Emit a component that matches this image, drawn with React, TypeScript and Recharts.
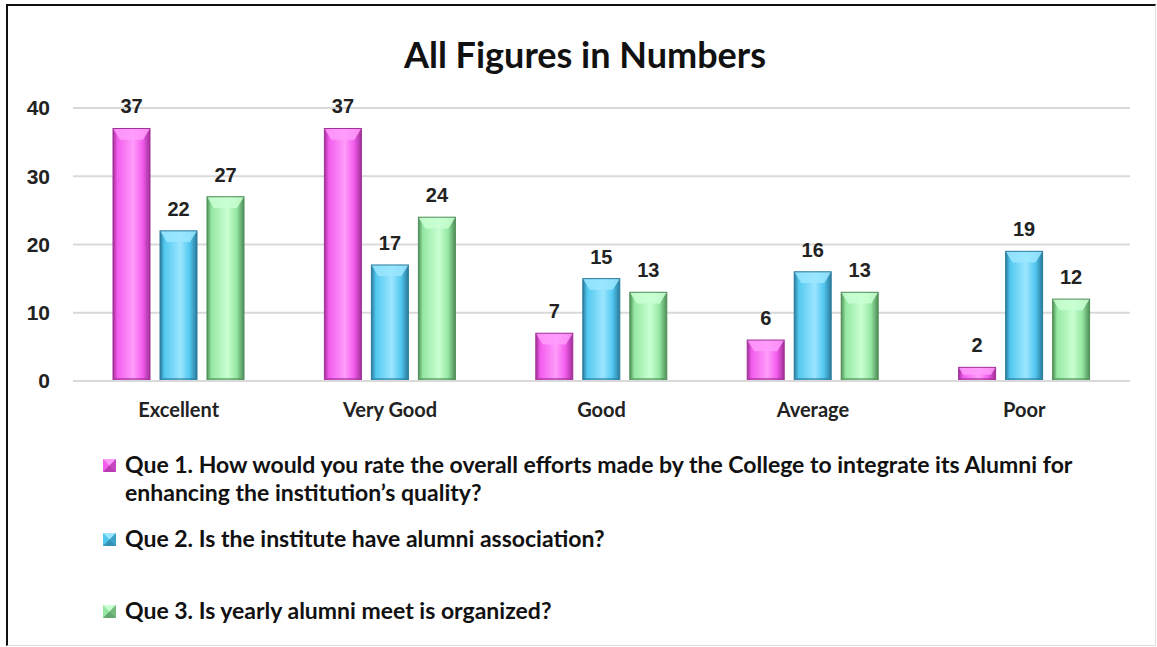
import React from 'react';
import { BarChart, Bar, XAxis, YAxis, CartesianGrid, LabelList } from 'recharts';

const categories = ['Excellent', 'Very Good', 'Good', 'Average', 'Poor'];
const que1 = [37, 37, 7, 6, 2];
const que2 = [22, 17, 15, 16, 19];
const que3 = [27, 24, 13, 13, 12];
const yTicks = [0, 10, 20, 30, 40];
const title = 'All Figures in Numbers';
const seriesKeys = ['q1', 'q2', 'q3'];
const seriesNames = [
  'Que 1.  How would you rate the overall efforts made by the College to integrate its Alumni for\nenhancing the institution\u2019s quality?',
  'Que 2. Is the institute have alumni association?',
  'Que 3. Is yearly alumni meet is organized?',
];
const seriesColors = [
  { base: '#f35ced', light: '#ff9cfb', dark: '#a02f98' },
  { base: '#52c8f0', light: '#9be6ff', dark: '#2a7b9c' },
  { base: '#95e8a2', light: '#c9ffd2', dark: '#4f8d58' },
];

const data = categories.map((c, i) => ({ name: c, q1: que1[i], q2: que2[i], q3: que3[i] }));

const makeShape = (idx: number) => (props: any) => {
  const { x, y, width, height } = props;
  if (!height || height <= 0) return <g />;
  const c = seriesColors[idx];
  const b = Math.min(7, height / 3, width / 4);
  return (
    <g>
      <rect x={x} y={y} width={width} height={height} fill={`url(#barGrad${idx})`} />
      <polygon
        points={`${x},${y} ${x + width},${y} ${x + width - b},${y + b * 1.6} ${x + b},${y + b * 1.6}`}
        fill={c.light}
        opacity={0.85}
      />
      <polygon
        points={`${x},${y + height} ${x + width},${y + height} ${x + width - 3},${y + height - 3} ${x + 3},${y + height - 3}`}
        fill={c.dark}
        opacity={0.6}
      />
      <rect x={x} y={y} width={width} height={height} fill="none" stroke={c.dark} strokeWidth={1} />
    </g>
  );
};

const LegendIcon = ({ idx }: { idx: number }) => {
  const c = seriesColors[idx];
  return (
    <svg width={13} height={13} style={{ marginRight: 9, flexShrink: 0, position: 'relative', top: 1 }}>
      <rect x={0} y={0} width={13} height={13} fill={c.base} />
      <polygon points="0,0 13,0 6.5,6.5" fill={c.light} />
      <polygon points="0,13 13,13 6.5,6.5" fill={c.dark} opacity={0.7} />
      <polygon points="13,0 13,13 6.5,6.5" fill={c.dark} opacity={0.5} />
    </svg>
  );
};

const legendTops = [450, 524, 596];

export default function App() {
  return (
    <div style={{ position: 'absolute', left: 0, top: 0, width: 1157, height: 647, background: '#fff', overflow: 'hidden' }}>
      <div
        style={{
          position: 'absolute',
          left: 6,
          top: 4,
          width: 1150,
          height: 642,
          borderTop: '2px solid #111',
          borderLeft: '2px solid #111',
          borderRight: '1px solid #ddd',
          borderBottom: '1px solid #ddd',
          boxSizing: 'border-box',
        }}
      />
      <div
        style={{
          position: 'absolute',
          left: 0,
          width: 1170,
          top: 33,
          textAlign: 'center',
          fontFamily: 'Lato, "Open Sans", sans-serif',
          fontWeight: 700,
          fontSize: 36,
          lineHeight: '43px',
          color: '#111',
        }}
      >
        {title}
      </div>
      <div style={{ position: 'absolute', left: 0, top: 0 }}>
        <BarChart
          width={1157}
          height={647}
          data={data}
          margin={{ top: 108, right: 27, bottom: 236, left: 0 }}
          barSize={37}
          barGap={10}
          barCategoryGap={40}
        >
          <defs>
            {seriesColors.map((c, i) => (
              <linearGradient key={i} id={`barGrad${i}`} x1="0" y1="0" x2="1" y2="0">
                <stop offset="0%" stopColor={c.dark} />
                <stop offset="12%" stopColor={c.base} />
                <stop offset="55%" stopColor={c.light} />
                <stop offset="80%" stopColor={c.base} />
                <stop offset="100%" stopColor={c.dark} />
              </linearGradient>
            ))}
          </defs>
          <CartesianGrid horizontal vertical={false} stroke="#d9d9d9" strokeWidth={2} />
          <XAxis
            dataKey="name"
            axisLine={{ stroke: '#d9d9d9', strokeWidth: 2 }}
            tickLine={false}
            tickMargin={16}
            tick={{ fill: '#222', fontSize: 20, fontWeight: 700, fontFamily: 'Lato, "Open Sans", sans-serif' }}
          />
          <YAxis
            width={73}
            domain={[0, 40]}
            ticks={yTicks}
            axisLine={false}
            tickLine={false}
            tickMargin={17}
            tick={{ fill: '#222', fontSize: 21, fontWeight: 700, fontFamily: '"Liberation Sans", Arial, sans-serif' }}
          />
          {seriesKeys.map((k, i) => (
            <Bar key={k} dataKey={k} isAnimationActive={false} shape={makeShape(i)}>
              <LabelList
                dataKey={k}
                position="top"
                offset={15}
                style={{ fill: '#222', fontSize: 20, fontWeight: 700, fontFamily: '"Liberation Sans", Arial, sans-serif' }}
              />
            </Bar>
          ))}
        </BarChart>
      </div>
      {seriesNames.map((n, i) => (
        <div
          key={i}
          style={{
            position: 'absolute',
            left: 103,
            top: legendTops[i],
            width: 1040,
            display: 'flex',
            alignItems: 'flex-start',
            fontFamily: 'Lato, "Open Sans", sans-serif',
            fontWeight: 700,
            fontSize: 23,
            lineHeight: '28px',
            color: '#111',
            whiteSpace: 'pre-line',
          }}
        >
          <div style={{ height: 28, display: 'flex', alignItems: 'center' }}>
            <LegendIcon idx={i} />
          </div>
          <div>{n}</div>
        </div>
      ))}
    </div>
  );
}
